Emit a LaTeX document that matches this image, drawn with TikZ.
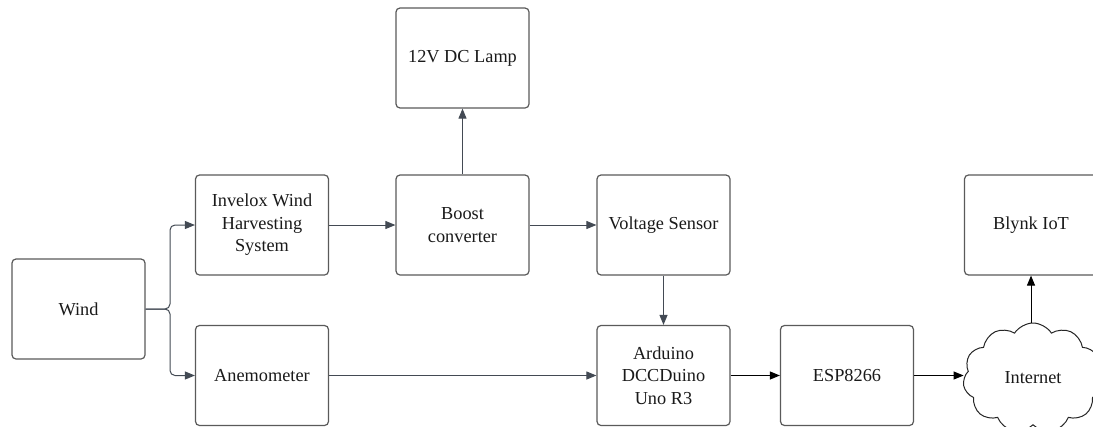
\documentclass[tikz,border=0pt]{standalone}
\usepackage{fontspec}
\setmainfont{Liberation Serif}
\usetikzlibrary{arrows.meta,shapes.symbols}
\definecolor{boxline}{HTML}{5A5A5A}
\definecolor{conn}{HTML}{434A54}
\definecolor{txt}{HTML}{1A1A1A}
\tikzset{
  blockbox/.style={draw=boxline, line width=1.2pt, rounded corners=4pt,
    minimum width=133pt, minimum height=100pt, align=center, text=txt,
    font=\fontsize{18.3}{22.5}\selectfont, inner sep=2pt},
  arr/.style={draw=conn, line width=1pt, -{Triangle[length=10pt,width=8pt]}},
  arrblack/.style={draw=black, line width=1pt, -{Triangle[length=10pt,width=8pt]}},
  cloudbox/.style={cloud, cloud puffs=11, cloud puff arc=115, cloud ignores aspect,
    draw=black!85, line width=1pt, minimum width=140pt, minimum height=110pt,
    text=txt, font=\fontsize{18.3}{22.5}\selectfont},
}
\begin{document}
\begin{tikzpicture}[x=1pt,y=-1pt]
\useasboundingbox (0,0) rectangle (1093,426);
\clip (0,0) rectangle (1093,426);
\fill[white] (0,0) rectangle (1093,426);
\node[blockbox] (wind) at (78.5,309) {Wind};
\node[blockbox] (invelox) at (262,225) {Invelox Wind\\Harvesting\\System};
\node[blockbox] (anem) at (262,375.5) {Anemometer};
\node[blockbox] (boost) at (462.5,225) {Boost\\converter};
\node[blockbox] (lamp) at (462.5,58) {12V DC Lamp};
\node[blockbox] (volt) at (663.5,225) {Voltage Sensor};
\node[blockbox] (ard) at (663.5,375.5) {Arduino\\DCCDuino\\Uno R3};
\node[blockbox] (esp) at (847,375.5) {ESP8266};
\node[blockbox] (blynk) at (1031,225) {Blynk IoT};
\node[cloudbox] (net) at (1033,378) {Internet};
\coordinate (br) at (170,309);
\draw[arr, rounded corners=5pt] (wind.east) -- (br) |- (invelox.west);
\draw[arr, rounded corners=5pt] (wind.east) -- (br) |- (anem.west);
\draw[arr] (invelox.east) -- (boost.west);
\draw[arr] (boost.east) -- (volt.west);
\draw[arr] (boost.north) -- (lamp.south);
\draw[arr] (volt.south) -- (ard.north);
\draw[arr] (anem.east) -- (ard.west);
\draw[arrblack] (ard.east) -- (esp.west);
\draw[arrblack] (esp.east) -- (net.west |- esp.east);
\draw[arrblack] (net.north -| blynk.south) -- (blynk.south);
\end{tikzpicture}
\end{document}
